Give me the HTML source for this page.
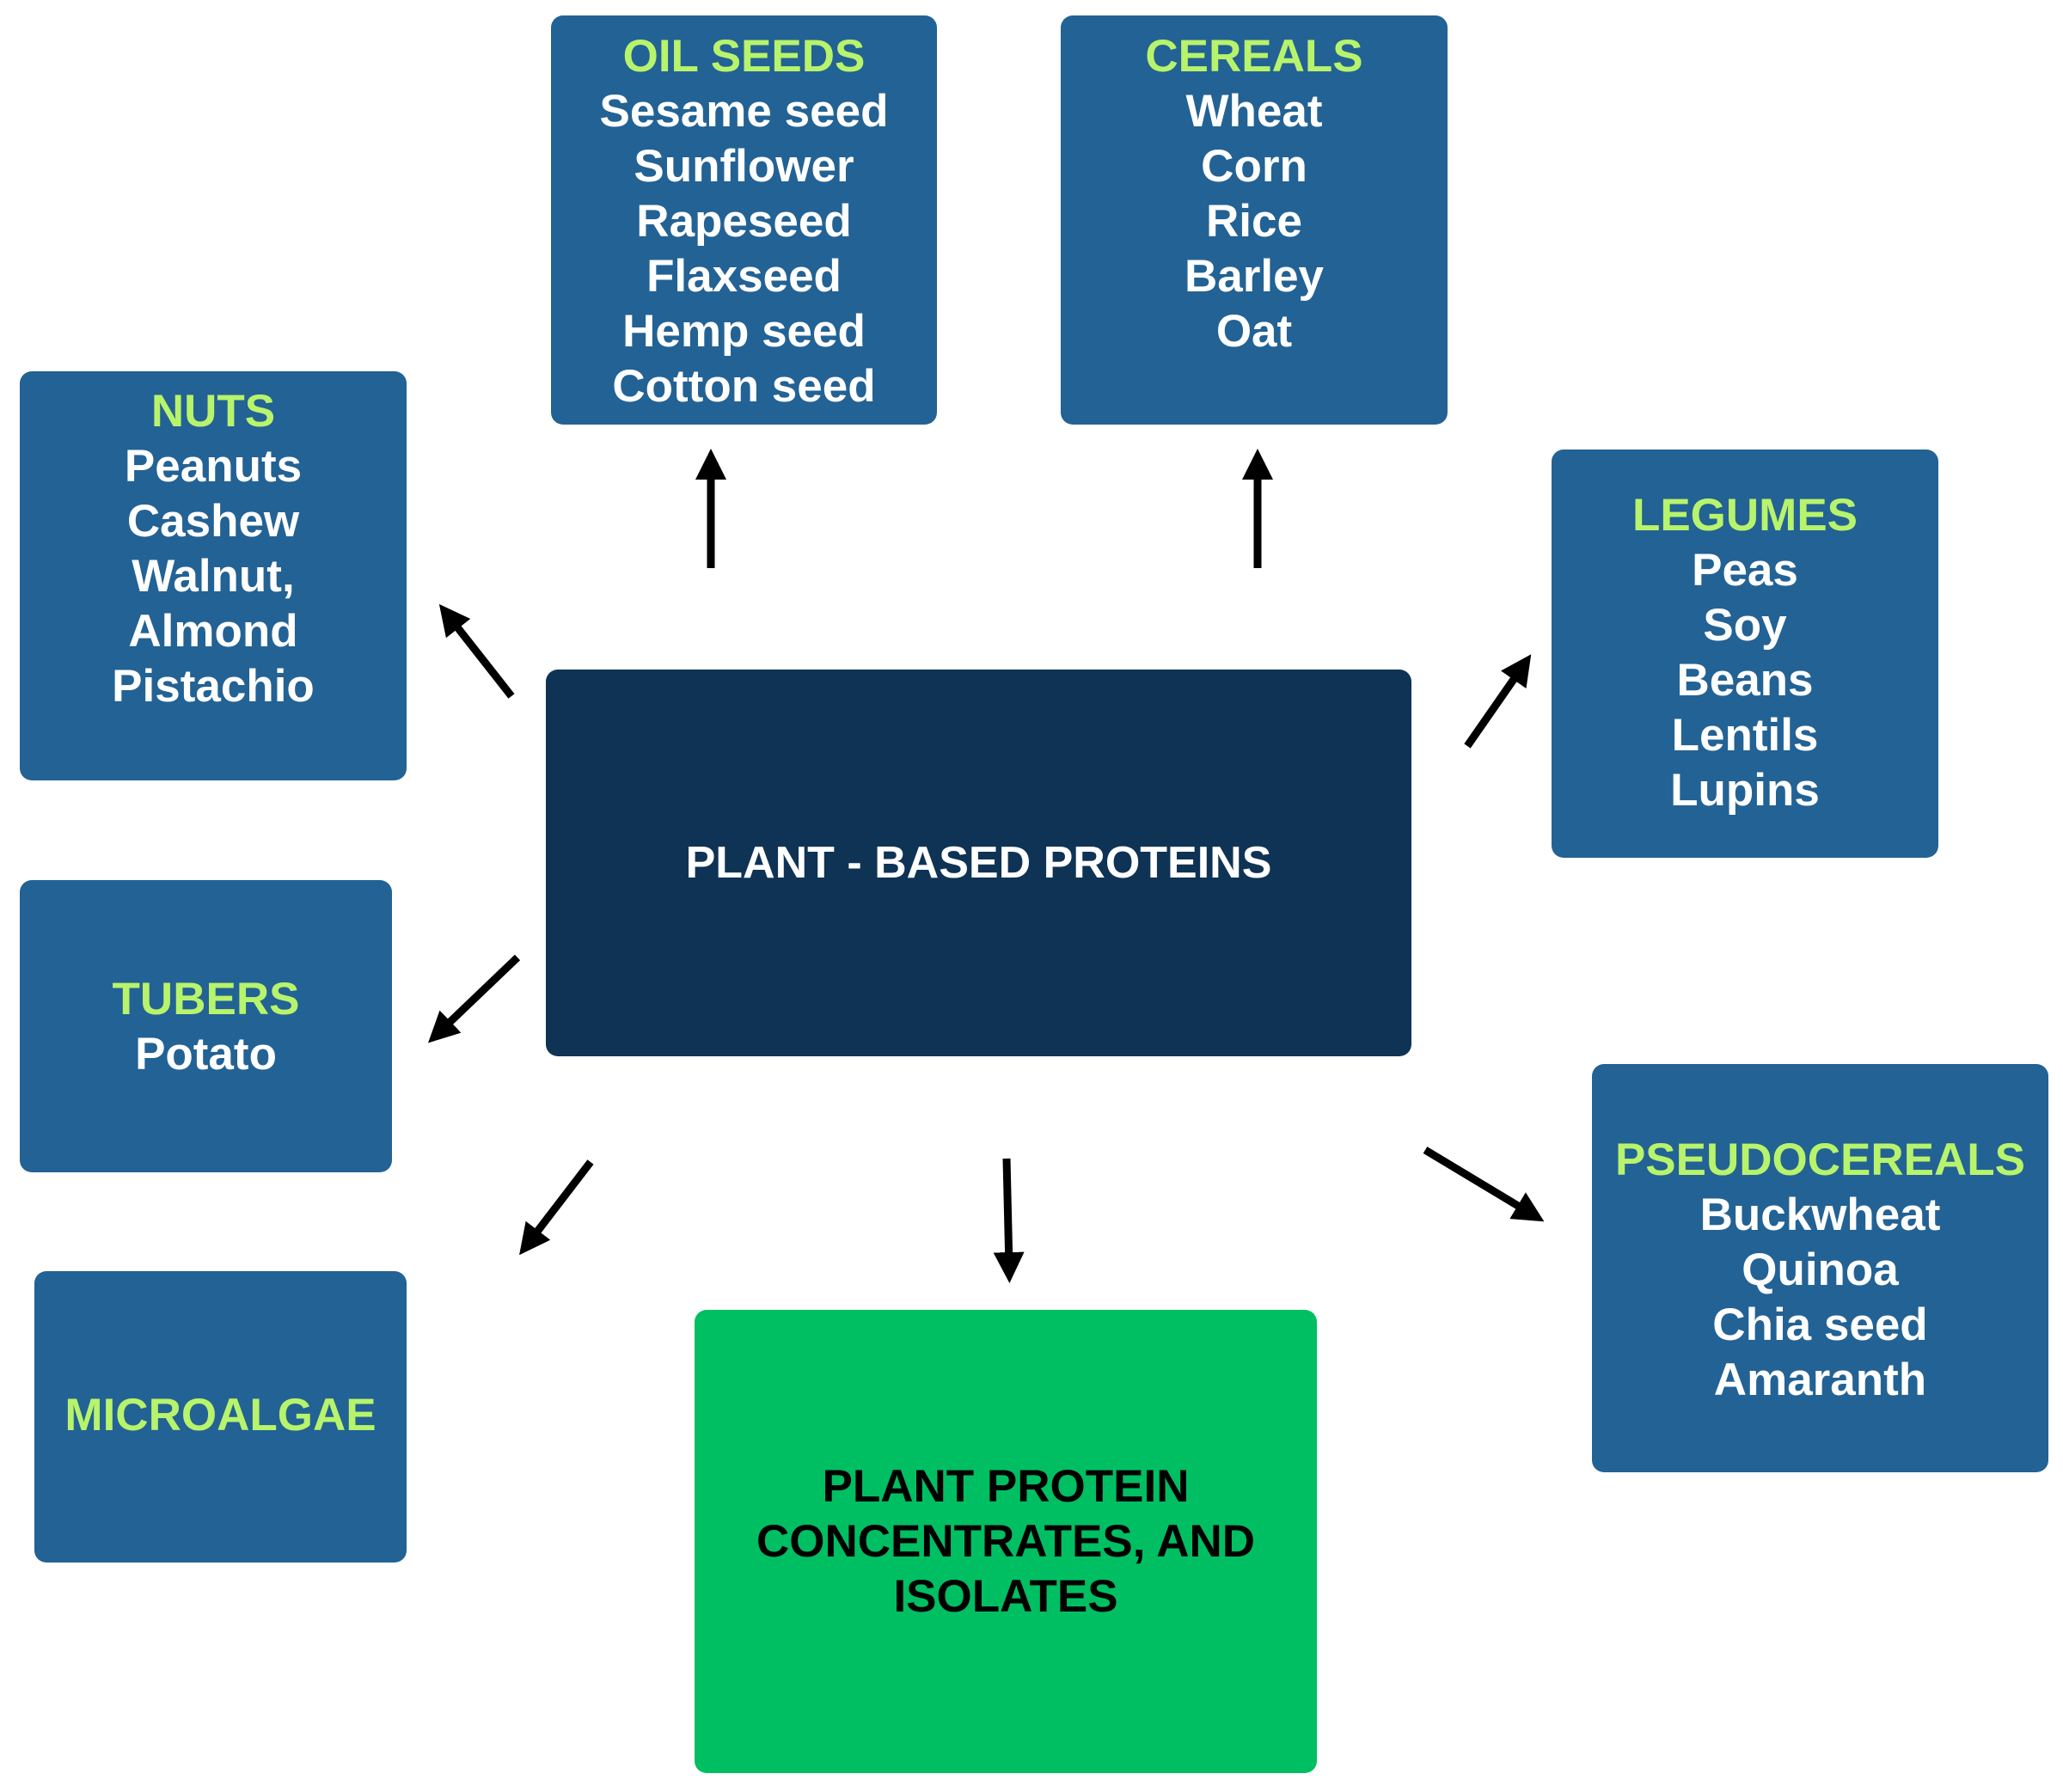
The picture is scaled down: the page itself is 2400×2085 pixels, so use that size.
<!DOCTYPE html>
<html><head><meta charset="utf-8"><style>
html,body{margin:0;padding:0;background:#fff;}
body{width:2400px;height:2085px;position:relative;overflow:hidden;font-family:"Liberation Sans",sans-serif;font-weight:bold;}
.b{position:absolute;background:#236294;border-radius:14px;color:#fff;text-align:center;font-size:53px;line-height:64px;box-sizing:border-box;}
.h{color:#b8f36c;}
svg{position:absolute;left:0;top:0;}
</style></head><body>
<div class="b" style="left:641px;top:18px;width:449px;height:476px;padding-top:16px"><span class="h">OIL SEEDS</span><br>Sesame seed<br>Sunflower<br>Rapeseed<br>Flaxseed<br>Hemp seed<br>Cotton seed</div>
<div class="b" style="left:1234px;top:18px;width:450px;height:476px;padding-top:16px"><span class="h">CEREALS</span><br>Wheat<br>Corn<br>Rice<br>Barley<br>Oat</div>
<div class="b" style="left:23px;top:432px;width:450px;height:476px;padding-top:15px"><span class="h">NUTS</span><br>Peanuts<br>Cashew<br>Walnut,<br>Almond<br>Pistachio</div>
<div class="b" style="left:1805px;top:523px;width:450px;height:475px;padding-top:45px"><span class="h">LEGUMES</span><br>Peas<br>Soy<br>Beans<br>Lentils<br>Lupins</div>
<div class="b" style="left:635px;top:779px;width:1007px;height:450px;background:#0f3354;font-size:52px;line-height:450px">PLANT - BASED PROTEINS</div>
<div class="b" style="left:23px;top:1024px;width:433px;height:340px;padding-top:107px"><span class="h">TUBERS</span><br>Potato</div>
<div class="b" style="left:1852px;top:1238px;width:531px;height:475px;padding-top:80px"><span class="h">PSEUDOCEREALS</span><br>Buckwheat<br>Quinoa<br>Chia seed<br>Amaranth</div>
<div class="b" style="left:40px;top:1479px;width:433px;height:339px;padding-top:136px"><span class="h">MICROALGAE</span></div>
<div class="b" style="left:808px;top:1524px;width:724px;height:539px;background:#00bf63;color:#000;padding-top:174px">PLANT PROTEIN<br>CONCENTRATES, AND<br>ISOLATES</div>
<svg width="2400" height="2085">
<defs><marker id="a" markerWidth="4" markerHeight="4" refX="2" refY="2" orient="auto" markerUnits="strokeWidth"><path d="M0,0 L4,2 L0,4 z" fill="#000"/></marker></defs>
<g stroke="#000" stroke-width="9" marker-end="url(#a)">
<line x1="827" y1="661" x2="827" y2="540"/>
<line x1="1463" y1="661" x2="1463" y2="540"/>
<line x1="595" y1="810" x2="522" y2="717"/>
<line x1="1707" y1="868" x2="1771" y2="776"/>
<line x1="602" y1="1114" x2="511" y2="1201"/>
<line x1="687" y1="1352" x2="615" y2="1446"/>
<line x1="1171" y1="1348" x2="1174" y2="1475"/>
<line x1="1658" y1="1338" x2="1781" y2="1412"/>
</g></svg>
</body></html>
